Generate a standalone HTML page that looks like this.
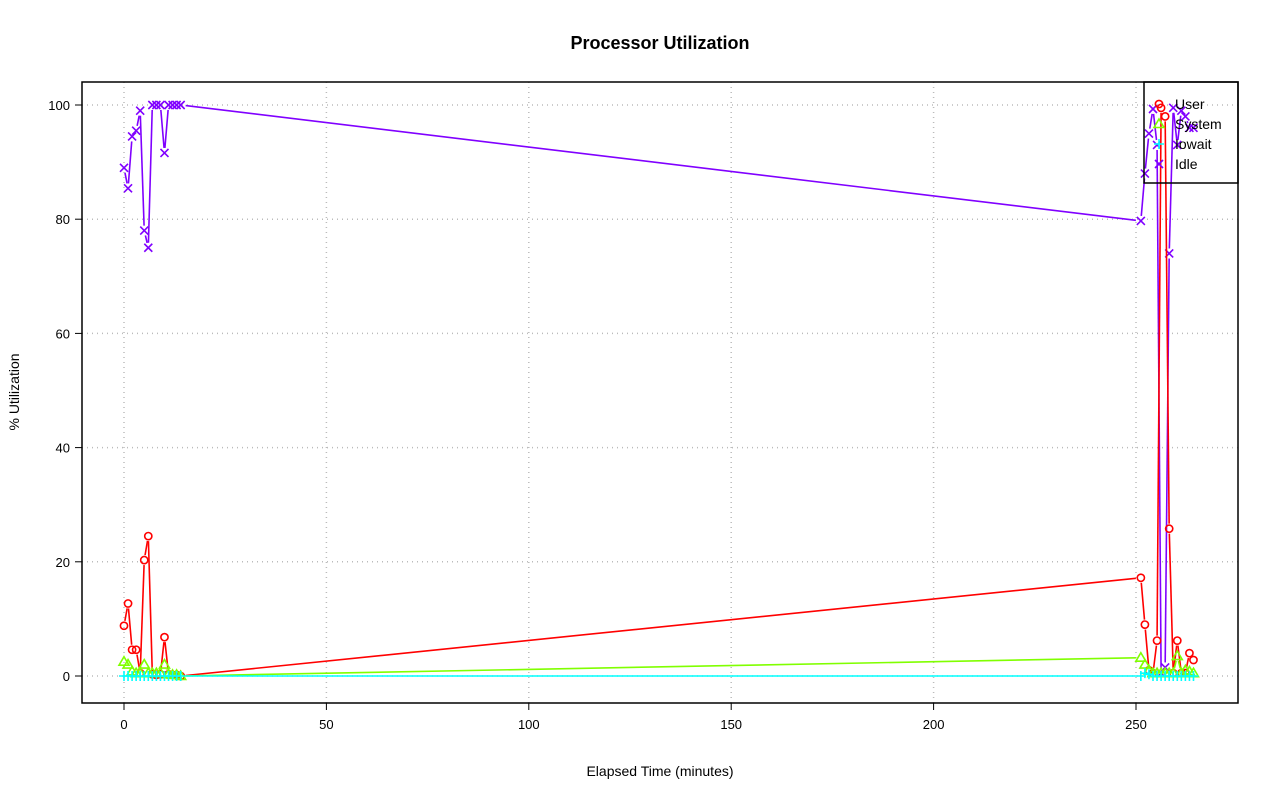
<!DOCTYPE html>
<html><head><meta charset="utf-8"><style>
body{margin:0;background:#fff}
svg text{font-family:"Liberation Sans",sans-serif}
</style></head><body>
<svg id="chart" width="1280" height="801" xmlns="http://www.w3.org/2000/svg">
<rect width="1280" height="801" fill="#fff"/>
<text x="660" y="49" text-anchor="middle" font-size="18" font-weight="bold">Processor Utilization</text>
<text x="660" y="776" text-anchor="middle" font-size="14">Elapsed Time (minutes)</text>
<text transform="translate(19,392) rotate(-90)" text-anchor="middle" font-size="14">% Utilization</text>
<g id="grid"></g><g id="axes"></g><g id="series"></g>
<rect x="82" y="82" width="1156" height="621" fill="none" stroke="#000" stroke-width="1.5"/>
<g>
<rect x="1144" y="82" width="94" height="101" fill="none" stroke="#000" stroke-width="1.5"/>
<circle cx="1159" cy="104" r="3.6" fill="none" stroke="#ff0000" stroke-width="1.6"/>
<path d="M1159,119L1164,127.5L1154,127.5Z" fill="none" stroke="#80ff00" stroke-width="1.6"/>
<path d="M1154,144H1164M1159,139V149" stroke="#00ffff" stroke-width="1.6"/>
<path d="M1155,160L1163,168M1155,168L1163,160" stroke="#8000ff" stroke-width="1.6"/>
<text x="1175" y="109" font-size="14">User</text>
<text x="1175" y="129" font-size="14">System</text>
<text x="1175" y="149" font-size="14">Iowait</text>
<text x="1175" y="169" font-size="14">Idle</text>
</g>
</svg>
<script>
const times=[0,1,2,3,4,5,6,7,8,9,10,11,12,13,14,251.2,252.2,253.2,254.2,255.2,256.2,257.2,258.2,259.2,260.2,261.2,262.2,263.2,264.2];
const userVals=[8.8,12.7,4.6,4.6,0.5,20.3,24.5,0.3,0.2,0.3,6.8,0.3,0.2,0.2,0,17.2,9,1,0.5,6.2,99.5,98,25.8,0.5,6.2,0.5,0.5,4,2.8];
const systemVals=[2.5,2,0.8,0.5,0.5,2,0.5,0.5,0.5,0.5,2,0.3,0.2,0.2,0,3.2,2,1,0.5,0.5,0.5,0.5,0.5,0.5,3.5,0.5,1,0.8,0.5];
const iowaitVals=[0,0,0,0,0,0,0,0,0,0,0,0,0,0,0,0,0.5,0.3,0,0,0,0,0,0,0,0,0,0,0];
const idleVals=[89,85.4,94.5,95.5,99,78,75,100,100,100,91.6,100,100,100,100,79.7,88,95,99.3,93,0.5,1.5,74,99.5,93,99,98,96,96];
const xTicks=[0,50,100,150,200,250];
const yTicks=[0,20,40,60,80,100];
const NS="http://www.w3.org/2000/svg";
const xs=v=>124+v*4.048, ys=v=>676-v*5.71;
function mk(tag,attrs,parent){const e=document.createElementNS(NS,tag);for(const k in attrs)e.setAttribute(k,attrs[k]);parent.appendChild(e);return e;}
const grid=document.getElementById('grid'),axes=document.getElementById('axes'),ser=document.getElementById('series');
xTicks.forEach(t=>{
 const g=mk('line',{x1:xs(t),x2:xs(t),y1:82,y2:703,stroke:'#bbb','stroke-dasharray':'1,4','stroke-width':1.5},grid);
 
 
 mk('line',{x1:xs(t),x2:xs(t),y1:703,y2:710,stroke:'#000'},axes);
 const l=mk('text',{x:xs(t),y:729,'text-anchor':'middle','font-size':13},axes);l.textContent=t;
 
 
});
yTicks.forEach(t=>{
 const g=mk('line',{x1:82,x2:1238,y1:ys(t),y2:ys(t),stroke:'#bbb','stroke-dasharray':'1,4','stroke-width':1.5},grid);
 
 
 mk('line',{x1:75,x2:82,y1:ys(t),y2:ys(t),stroke:'#000'},axes);
 const l=mk('text',{x:70,y:ys(t)+5,'text-anchor':'end','font-size':13},axes);l.textContent=t;
 
 
});
function series(vals,color,shape,name){
 const g=mk('g',{},ser);
 
 
 for(let i=0;i<vals.length-1;i++){
  const x1=xs(times[i]),y1=ys(vals[i]),x2=xs(times[i+1]),y2=ys(vals[i+1]);
  const d=Math.hypot(x2-x1,y2-y1);if(d<10)continue;
  const ux=(x2-x1)/d*5,uy=(y2-y1)/d*5;
  mk('line',{x1:x1+ux,y1:y1+uy,x2:x2-ux,y2:y2-uy,stroke:color,'stroke-width':1.6},g);
 }
 vals.forEach((v,i)=>{
  const x=xs(times[i]),y=ys(v);let m;
  if(shape==='o')m=mk('circle',{cx:x,cy:y,r:3.6,fill:'none',stroke:color,'stroke-width':1.6},g);
  else if(shape==='t')m=mk('path',{d:`M${x},${y-5}L${x+5},${y+3.5}L${x-5},${y+3.5}Z`,fill:'none',stroke:color,'stroke-width':1.6},g);
  else if(shape==='+')m=mk('path',{d:`M${x-5},${y}H${x+5}M${x},${y-5}V${y+5}`,stroke:color,'stroke-width':1.6},g);
  else m=mk('path',{d:`M${x-4},${y-4}L${x+4},${y+4}M${x-4},${y+4}L${x+4},${y-4}`,stroke:color,'stroke-width':1.6},g);
  
  
 });
}
series(idleVals,'#8000ff','x','idle');
series(userVals,'#ff0000','o','user');
series(systemVals,'#80ff00','t','system');
series(iowaitVals,'#00ffff','+','iowait');
</script>
</body></html>
